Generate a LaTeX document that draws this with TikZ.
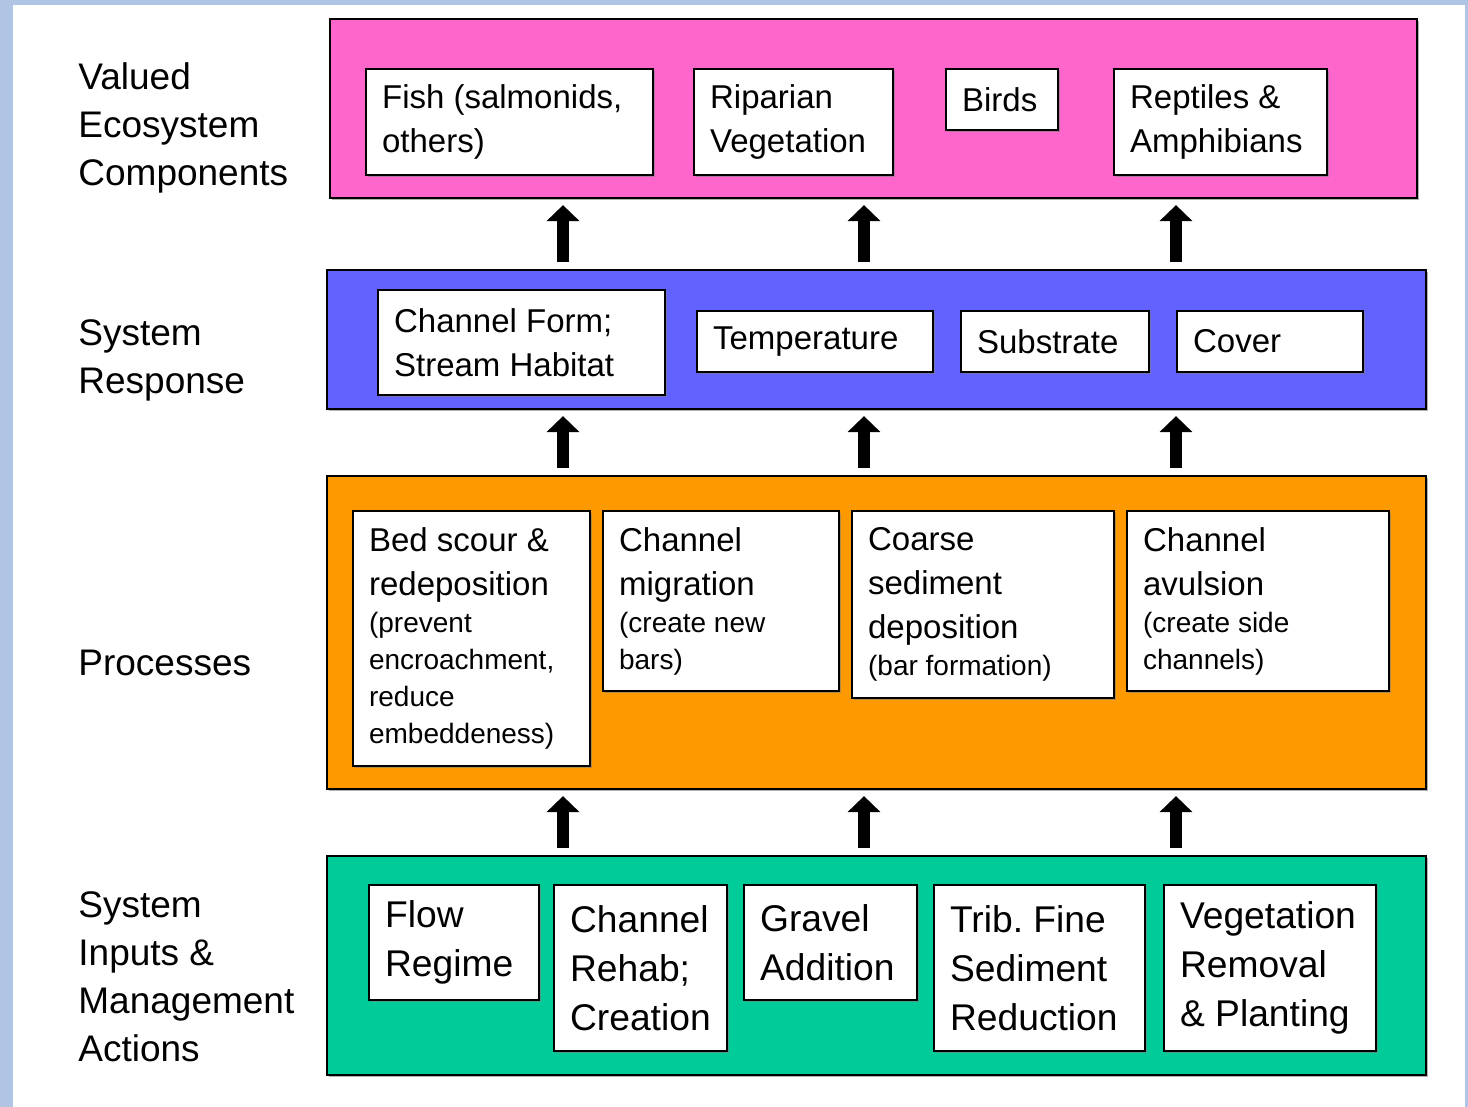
\documentclass[tikz,border=0pt]{standalone}
\usepackage{fontspec}
\setmainfont{Liberation Sans}
\usetikzlibrary{arrows.meta, fit, shadows}
\definecolor{vecpink}{RGB}{255, 102, 204}
\definecolor{respblue}{RGB}{98, 98, 255}
\definecolor{procorange}{RGB}{255, 153, 0}
\definecolor{mgmtgreen}{RGB}{0, 204, 153}
\definecolor{framebl}{RGB}{176, 196, 228}
\setlength{\parindent}{0pt}
\frenchspacing

\begin{document}
\begin{tikzpicture}[
    x = 0.5pt, y = -0.5pt,
    tier/.style = {draw, line width = 1.1pt, inner sep = 0pt, drop shadow = {shadow xshift = 0.8pt, shadow yshift = -0.8pt, opacity = 0.6}},
    inbox/.style = {draw, fill = white, line width = 1.1pt, anchor = north west, align = flush left, inner xsep = 8pt, inner ysep = 0pt, font = \fontsize{16.5}{22}\selectfont, execute at begin node = {\spaceskip=0pt\xspaceskip=0pt}, drop shadow = {shadow xshift = 0.8pt, shadow yshift = -0.8pt, opacity = 0.6}},
    gbox/.style = {inbox, font = \fontsize{18.6}{24.5}\selectfont},
    side/.style = {anchor = west, align = left, inner sep = 0pt, font = \fontsize{18.5}{24}\selectfont},
    uparrow/.style = {line width = 6pt, -{Triangle[width = 16pt, length = 8pt]}, shorten <= 3.5pt, shorten >= 3pt}
]
\newcommand{\smalltxt}{\fontsize{14}{18.5}\selectfont\spaceskip=0pt}

\fill[framebl] (0,0) rectangle (1468,1107);
\fill[white] (13,5) rectangle (1465,1107);
\useasboundingbox (0,0) rectangle (1468,1107);

% layers
\node[tier, fill = vecpink, fit = {(330,19) (1417,198)}] (vec) {};
\node[tier, fill = respblue, fit = {(327,270) (1426,409)}] (resp) {};
\node[tier, fill = procorange, fit = {(327,476) (1426,789)}] (proc) {};
\node[tier, fill = mgmtgreen, fit = {(327,856) (1426,1075)}] (mgmt) {};

\node[side] (vecl) at (78,128) {Valued\\Ecosystem\\Components};
\node[side] (respl) at (78,360) {System\\Response};
\node[side] (procl) at (78,663) {Processes};
\node[side] (mgmtl) at (78,977) {System\\Inputs \&\\Management\\Actions};

\node[inbox, text width = 127.5pt, minimum height = 53pt] (fish) at (365,68) {Fish (salmonids,\\others)};
\node[inbox, text width = 83.5pt, minimum height = 53pt] (ripar) at (693,68) {Riparian\\Vegetation};
\node[inbox, text width = 40pt, minimum height = 30.5pt] (birds) at (945,68) {Birds};
\node[inbox, text width = 90.5pt, minimum height = 53pt] (rept) at (1113,68) {Reptiles \&\\Amphibians};

\node[inbox, text width = 127.5pt, minimum height = 52.5pt] (form) at (377,289) {Channel Form;\\Stream Habitat};
\node[inbox, text width = 102pt, minimum height = 30.5pt] (temp) at (696,310) {Temperature};
\node[inbox, text width = 78pt, minimum height = 30.5pt] (subs) at (960,310) {Substrate};
\node[inbox, text width = 77pt, minimum height = 30.5pt] (cover) at (1176,310) {Cover};

\node[inbox, text width = 102.5pt, minimum height = 127.5pt] (scour) at (352,510) {Bed scour \&\\redeposition\par{\smalltxt (prevent\\encroachment,\\reduce\\embeddeness)\par}};
\node[inbox, text width = 102pt, minimum height = 90pt] (migr) at (602,510) {Channel\\migration\par{\smalltxt (create new\\bars)\par}};
\node[inbox, text width = 115pt, minimum height = 93.5pt] (coarse) at (851,510) {Coarse\\sediment\\deposition\par{\smalltxt (bar formation)\par}};
\node[inbox, text width = 115pt, minimum height = 90pt] (avul) at (1126,510) {Channel\\avulsion\par{\smalltxt (create side\\channels)\par}};

\node[gbox, text width = 69pt, minimum height = 57.5pt] (flow) at (368,884) {Flow\\Regime};
\node[gbox, text width = 70.5pt, minimum height = 83pt] (rehab) at (553,884) {Channel\\Rehab;\\Creation};
\node[gbox, text width = 70.5pt, minimum height = 57.5pt] (gravel) at (743,884) {Gravel\\Addition};
\node[gbox, text width = 89.5pt, minimum height = 83pt] (trib) at (933,884) {Trib. Fine\\Sediment\\Reduction};
\node[gbox, text width = 90pt, minimum height = 83pt] (veg) at (1163,884) {Vegetation\\Removal\\\& Planting};

\coordinate (c1) at (563,0);
\coordinate (c2) at (864,0);
\coordinate (c3) at (1176,0);
\foreach \c in {c1,c2,c3} {
  \draw[uparrow] (\c |- resp.north) -- (\c |- vec.south);
  \draw[uparrow] (\c |- proc.north) -- (\c |- resp.south);
  \draw[uparrow] (\c |- mgmt.north) -- (\c |- proc.south);
}
\end{tikzpicture}
\end{document}
